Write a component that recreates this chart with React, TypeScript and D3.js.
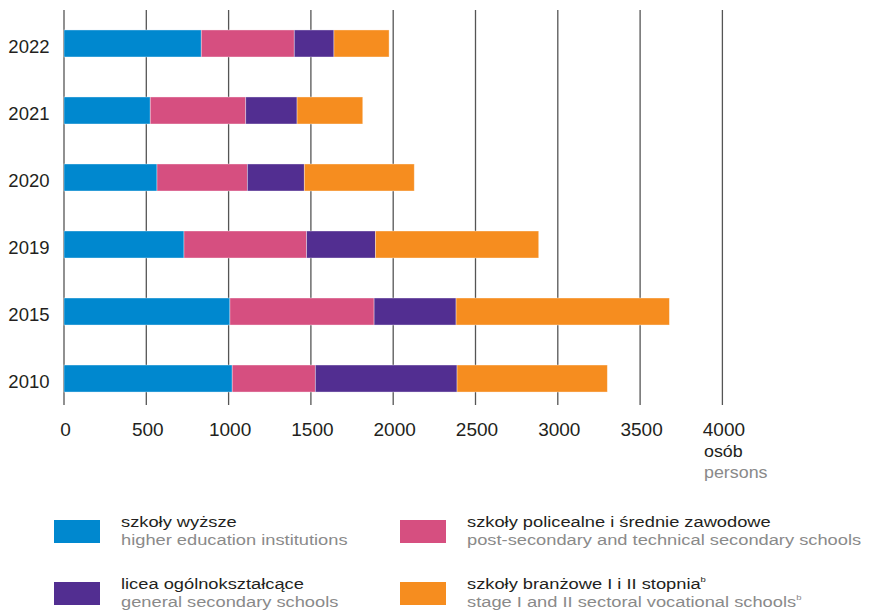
import React from 'react';
import * as d3 from 'd3';

const years = ['2022', '2021', '2020', '2019', '2015', '2010'];
const higher = [834, 524, 565, 729, 1008, 1022];
const postSecondary = [565, 580, 549, 745, 876, 505];
const generalSecondary = [241, 312, 346, 418, 498, 861];
const sectoral = [335, 399, 668, 992, 1296, 913];
const xTicks = [0, 500, 1000, 1500, 2000, 2500, 3000, 3500, 4000];

const seriesKeys = ['higher', 'postSecondary', 'generalSecondary', 'sectoral'];
const colors = ['#0088cf', '#d64f80', '#522e91', '#f68d1f'];

const legendItems = [
	{ pl: 'szkoły wyższe', en: 'higher education institutions', sup: false },
	{ pl: 'szkoły policealne i średnie zawodowe', en: 'post-secondary and technical secondary schools', sup: false },
	{ pl: 'licea ogólnokształcące', en: 'general secondary schools', sup: false },
	{ pl: 'szkoły branżowe I i II stopnia', en: 'stage I and II sectoral vocational schools', sup: true }
];

const font = '"Liberation Sans", Arial, sans-serif';

export default function App() {
	const rows = years.map((year, i) => ({
		year,
		higher: higher[i],
		postSecondary: postSecondary[i],
		generalSecondary: generalSecondary[i],
		sectoral: sectoral[i]
	}));

	const stacked = d3.stack().keys(seriesKeys)(rows as any);

	const x = d3.scaleLinear().domain([0, 4000]).range([64, 722.4]);
	const y = d3.scaleBand().domain(years).range([10, 412]).paddingInner(0.597).paddingOuter(0.298);

	return (
		<svg width={871} height={610} style={{ position: 'absolute', left: 0, top: 0, background: '#fff' }} fontFamily={font}>
			{/* gridlines */}
			{xTicks.map(t => (
				<line key={t} x1={x(t)} x2={x(t)} y1={10} y2={405} stroke="#555" strokeWidth={1.3} />
			))}

			{/* bars */}
			{stacked.map((layer, si) => (
				<g key={layer.key} fill={colors[si]}>
					{layer.map((d: any, i) => (
						<rect key={i}
							x={x(d[0])}
							y={y(years[i])}
							width={x(d[1]) - x(d[0])}
							height={y.bandwidth()}
							stroke="#fff" strokeOpacity={0.45} strokeWidth={0.8} />
					))}
				</g>
			))}

			{/* year labels */}
			{years.map(yr => (
				<text key={yr} x={49.5} y={y(yr)! + y.bandwidth() / 2} dy="0.5em" textAnchor="end" fontSize={18.5} fill="#231f20">{yr}</text>
			))}

			{/* tick labels */}
			{xTicks.map(t => (
				<text key={t} x={x(t) + 1.5} y={436} textAnchor="middle" fontSize={19} fill="#231f20">{t}</text>
			))}
			<g transform="translate(704,457) scale(1.05,1)">
				<text fontSize={17} fill="#231f20">osób</text>
			</g>
			<g transform="translate(704,478) scale(1.05,1)">
				<text fontSize={17} fill="#8a8a8a">persons</text>
			</g>

			{/* legend */}
			{legendItems.map((item, i) => {
				const col = i % 2;
				const row = Math.floor(i / 2);
				const sx = col === 0 ? 54 : 400;
				const sy = row === 0 ? 520 : 582;
				return (
					<g key={i}>
						<rect x={sx} y={sy} width={46} height={23} fill={colors[i]} />
						<g transform={`translate(${sx + 67},${sy + 7}) scale(1.18,1)`}>
							<text fontSize={15.5} fill="#231f20">
								{item.pl}
								{item.sup && <tspan fontSize={8} dy={-7}>b</tspan>}
							</text>
						</g>
						<g transform={`translate(${sx + 67},${sy + 25}) scale(1.18,1)`}>
							<text fontSize={15.5} fill="#8a8a8a">
								{item.en}
								{item.sup && <tspan fontSize={8} dy={-7}>b</tspan>}
							</text>
						</g>
					</g>
				);
			})}
		</svg>
	);
}
